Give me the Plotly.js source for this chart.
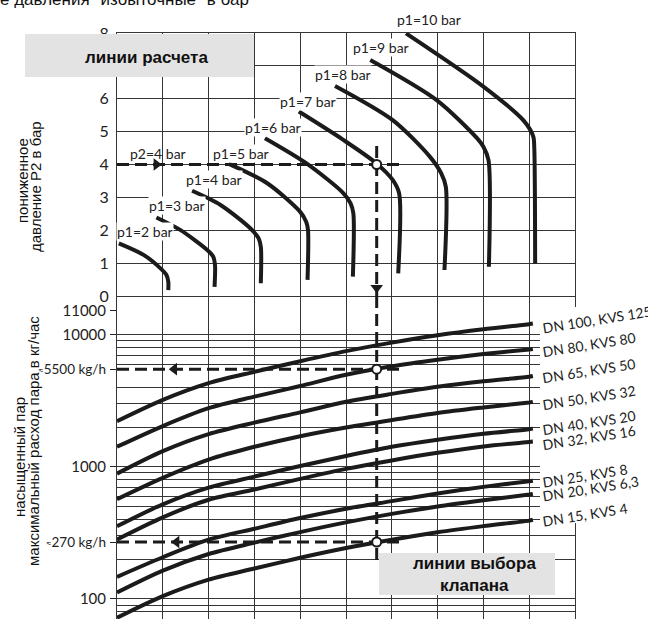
<!DOCTYPE html>
<html><head><meta charset="utf-8">
<script src="https://cdn.plot.ly/plotly-3.0.1.min.js"></script>
<style>html,body{margin:0;padding:0;background:#fff;overflow:hidden}</style>
</head><body><div id="chart" style="width:648px;height:619px"></div>
<script>
// ---------- data ----------
// upper panel: reduced pressure p2 (bar) vs. calculation scale
const pressureTicks = [0, 1, 2, 3, 4, 5, 6, 7, 8];
const pressureLabels = ['0', '1', '2', '3', '4', '5', '6', '', '8']; // "7" is hidden under the grey box
const p1Names = ['p1=2 bar', 'p1=3 bar', 'p1=4 bar', 'p1=5 bar', 'p1=6 bar', 'p1=7 bar', 'p1=8 bar', 'p1=9 bar', 'p1=10 bar'];
const p1_2_x = [0.04, 0.58, 0.95, 1.08, 1.12, 1.12];
const p1_2_y = [1.60, 1.25, 0.84, 0.64, 0.43, 0.18];
const p1_3_x = [0.86, 1.38, 1.97, 2.10, 2.14, 2.13];
const p1_3_y = [2.39, 2.01, 1.40, 1.20, 0.94, 0.28];
const p1_4_x = [1.64, 2.26, 2.91, 3.09, 3.14, 3.14];
const p1_4_y = [3.20, 2.77, 2.06, 1.76, 1.50, 0.39];
const p1_5_x = [2.44, 3.28, 4.00, 4.13, 4.17, 4.16];
const p1_5_y = [4.02, 3.43, 2.56, 2.26, 2.01, 0.49];
const p1_6_x = [3.23, 4.13, 4.94, 5.10, 5.16, 5.15];
const p1_6_y = [4.80, 4.04, 3.13, 2.82, 2.52, 0.59];
const p1_7_x = [3.97, 4.94, 5.66, 6.02, 6.16, 6.14];
const p1_7_y = [5.61, 4.75, 4.04, 3.53, 3.12, 0.69];
const p1_8_x = [4.76, 6.02, 6.83, 7.08, 7.18, 7.15];
const p1_8_y = [6.39, 5.35, 4.24, 3.73, 3.32, 0.79];
const p1_9_x = [5.53, 6.98, 7.86, 8.00, 8.11, 8.12];
const p1_9_y = [7.18, 5.96, 4.80, 4.54, 4.14, 0.89];
const p1_10_x = [6.31, 8.00, 8.87, 9.09, 9.11, 9.13];
const p1_10_y = [7.99, 6.37, 5.35, 4.85, 4.54, 0.99];
const p2Name = 'p2=4 bar';

// lower panel: max. saturated steam flow (kg/h), log scale
const flowX = [0, 1, 2, 3, 4, 5, 6, 7, 8, 9, 9.08];
const dn100 = [2220, 3220, 4310, 5250, 6320, 7530, 8740, 9950, 11040, 12050, 12180];
const dn80 = [1420, 2040, 2785, 3405, 4100, 4985, 5790, 6490, 7160, 7756, 7830];
const dn65 = [890, 1317, 1772, 2164, 2590, 3116, 3575, 4045, 4453, 4825, 4880];
const dn50 = [570, 827, 1136, 1420, 1709, 1990, 2266, 2561, 2820, 3078, 3110];
const dn40 = [355, 521, 697, 845, 1015, 1210, 1420, 1607, 1782, 1930, 1950];
const dn32 = [282, 415, 564, 675, 812, 967, 1120, 1278, 1428, 1545, 1556];
const dn25 = [147, 207, 281, 340, 410, 482, 551, 629, 706, 778, 785];
const dn20 = [112, 164, 219, 267, 321, 380, 441, 502, 559, 618, 625];
const dn15 = [72, 105, 140, 170, 205, 243, 281, 320, 356, 392, 398];
const dnNames = ['DN 100, KVS 125', 'DN 80, KVS 80', 'DN 65, KVS 50', 'DN 50, KVS 32', 'DN 40, KVS 20', 'DN 32, KVS 16', 'DN 25, KVS 8', 'DN 20, KVS 6,3', 'DN 15, KVS 4'];
const flowTickVals = [100, 270, 1000, 5500, 10000, 15200];
const flowTickText = ['100', '<span style="font-size:10px">≈</span><span style="font-size:13.5px">270 kg/h</span>', '1000',
  '<span style="font-size:10px">≈</span><span style="font-size:13.5px">5500 kg/h</span>', '10000', '11000'];
const flowGrid = [80, 90, 100, 200, 300, 400, 500, 600, 700, 800, 900, 1000, 2000, 3000, 4000, 6000, 7000, 8000, 9000, 10000];

// worked example (dashed guide lines)
const exampleX = 5.67;
const exampleP2 = 4;
const exampleFlows = [5500, 270];
const guideEndX = 6.16;
const guideTopP2 = 4.56;
const guideFlowTop = 19700;
const guideFlowBottom = 186;

// ---------- layout helpers ----------
const W = 648, H = 619, L = 117, R = 73, T = 33, B = 0;
const plotW = W - L - R, plotH = H - T - B;
const PX = p => (p - L) / plotW;
const PY = p => (H - B - p) / plotH;
const split = PY(296);
const logRange = [Math.log10(70.5), Math.log10(19700)];

const ink = '#1b1b1b';
const gridC = '#363636';
const futura = 'Lato, "DejaVu Sans", sans-serif';
const arial = '"Liberation Sans", Arial, sans-serif';

const traces = [];
const p1X = [p1_2_x, p1_3_x, p1_4_x, p1_5_x, p1_6_x, p1_7_x, p1_8_x, p1_9_x, p1_10_x];
const p1Y = [p1_2_y, p1_3_y, p1_4_y, p1_5_y, p1_6_y, p1_7_y, p1_8_y, p1_9_y, p1_10_y];
p1X.forEach((xs, i) => traces.push({
  x: xs, y: p1Y[i], xaxis: 'x', yaxis: 'y', mode: 'lines', name: p1Names[i],
  line: {color: ink, width: 4, shape: 'spline', smoothing: 0.8}, hoverinfo: 'skip'
}));
const dnSeries = [dn100, dn80, dn65, dn50, dn40, dn32, dn25, dn20, dn15];
dnSeries.forEach((ys, i) => traces.push({
  x: flowX, y: ys, xaxis: 'x2', yaxis: 'y2', mode: 'lines', name: dnNames[i],
  line: {color: ink, width: 4, shape: 'spline', smoothing: 0.8}, hoverinfo: 'skip'
}));

const dash = {color: ink, width: 3, dash: '12px,6px'};
// upper panel guides
traces.push({x: [0, guideEndX], y: [exampleP2, exampleP2], xaxis: 'x', yaxis: 'y', mode: 'lines', line: dash, hoverinfo: 'skip'});
traces.push({x: [exampleX, exampleX], y: [guideTopP2, 0], xaxis: 'x', yaxis: 'y', mode: 'lines', line: dash, hoverinfo: 'skip', cliponaxis: false});
traces.push({x: [0.86], y: [exampleP2], xaxis: 'x', yaxis: 'y', mode: 'markers', marker: {symbol: 'triangle-right', size: 11, color: ink}, hoverinfo: 'skip'});
traces.push({x: [exampleX], y: [0.25], xaxis: 'x', yaxis: 'y', mode: 'markers', marker: {symbol: 'triangle-down', size: 11, color: ink}, hoverinfo: 'skip'});
traces.push({x: [exampleX], y: [exampleP2], xaxis: 'x', yaxis: 'y', mode: 'markers', marker: {symbol: 'circle', size: 9, color: 'white', line: {color: ink, width: 2}}, hoverinfo: 'skip'});
// lower panel guides
traces.push({x: [exampleX, exampleX], y: [guideFlowTop, guideFlowBottom], xaxis: 'x2', yaxis: 'y2', mode: 'lines', line: dash, hoverinfo: 'skip'});
exampleFlows.forEach((f, i) => {
  traces.push({x: [0, guideEndX], y: [f, f], xaxis: 'x2', yaxis: 'y2', mode: 'lines', line: dash, hoverinfo: 'skip'});
  traces.push({x: [i === 0 ? 1.25 : 1.3], y: [f], xaxis: 'x2', yaxis: 'y2', mode: 'markers', marker: {symbol: 'triangle-left', size: 11, color: ink}, hoverinfo: 'skip'});
  traces.push({x: [exampleX], y: [f], xaxis: 'x2', yaxis: 'y2', mode: 'markers', marker: {symbol: 'circle', size: 9, color: 'white', line: {color: ink, width: 2}}, hoverinfo: 'skip'});
});
// dummy for overlay label axis
traces.push({x: [0], y: [1000], xaxis: 'x2', yaxis: 'y3', mode: 'markers', marker: {opacity: 0}, hoverinfo: 'skip'});

// ---------- annotations ----------
const ann = [];
const pAnn = (text, px, py, extra) => Object.assign({xref: 'paper', yref: 'paper', x: PX(px), y: PY(py),
  xanchor: 'center', yanchor: 'middle', showarrow: false, text: text}, extra || {});
ann.push(pAnn('е давления "избыточные" в бар', -2, -1, {xanchor: 'left', font: {family: arial, size: 17, color: '#111'}}));
[['пониженное', 22, 181], ['давление P2 в бар', 35, 187], ['насыщенный пар', 19, 457], ['максимальный расход пара в кг/час', 34, 441]]
  .forEach(a => ann.push(pAnn(a[0], a[1], a[2], {textangle: -90, font: {family: arial, size: 15, color: '#111'}})));
ann.push(pAnn('<b>линии расчета</b>', 146, 57, {font: {family: arial, size: 17, color: '#111'}}));
ann.push(pAnn('<b>линии выбора</b>', 474, 563, {font: {family: arial, size: 17, color: '#111'}}));
ann.push(pAnn('<b>клапана</b>', 474, 585, {font: {family: arial, size: 17, color: '#111'}}));

const p1LabelPx = [145, 177, 214, 241, 273, 308, 343, 381, 429];
const p1LabelPy = [232, 206, 180, 153, 128, 102, 74, 47, 19];
p1Names.forEach((t, i) => ann.push(pAnn(t, p1LabelPx[i], p1LabelPy[i], {bgcolor: 'white', borderpad: 0,
  font: {family: futura, size: 14, color: '#222'}})));
ann.push(pAnn(p2Name, 158, 153, {font: {family: futura, size: 14, color: '#222'}}));

const dnLabelPy = [319, 344, 371, 397, 422, 437, 475, 488, 514];
dnNames.forEach((t, i) => ann.push(pAnn(t, 539, dnLabelPy[i], {xanchor: 'left', textangle: -9,
  font: {family: futura, size: 14, color: '#222'}})));

// ---------- shapes ----------
const shapes = [
  {type: 'rect', xref: 'paper', yref: 'paper', x0: PX(540), x1: PX(660), y0: PY(523), y1: PY(307), fillcolor: 'white', line: {width: 0}, layer: 'above'},
  {type: 'rect', xref: 'paper', yref: 'paper', x0: PX(25), x1: PX(254), y0: PY(77), y1: PY(34), fillcolor: '#e3e3e3', line: {width: 0}, layer: 'above'},
  {type: 'rect', xref: 'paper', yref: 'paper', x0: PX(379), x1: PX(555), y0: PY(595), y1: PY(553), fillcolor: '#e3e3e3', line: {width: 0}, layer: 'above'}
];

const xCommon = {range: [0, 10], dtick: 1, tick0: 0, showgrid: true, gridcolor: gridC, gridwidth: 1, showticklabels: false, ticks: '', zeroline: false, fixedrange: true};
const layout = {
  width: W, height: H, margin: {l: L, r: R, t: T, b: B, pad: 0},
  paper_bgcolor: 'white', plot_bgcolor: 'white', showlegend: false,
  xaxis: Object.assign({}, xCommon, {domain: [0, 1], anchor: 'y', showline: true, mirror: true, linecolor: gridC, linewidth: 1}),
  xaxis2: Object.assign({}, xCommon, {domain: [0, 1], anchor: 'y2', showline: false}),
  yaxis: {domain: [split, 1], anchor: 'x', range: [0, 8], tickvals: pressureTicks, ticktext: pressureLabels,
    showgrid: true, gridcolor: gridC, gridwidth: 1, zeroline: false, showline: true, mirror: true, linecolor: gridC,
    ticks: '', ticklabelstandoff: 4, tickfont: {family: futura, size: 16, color: '#222'}, fixedrange: true},
  yaxis2: {domain: [0, split], anchor: 'x2', type: 'log', range: logRange, tickmode: 'array', tickvals: flowGrid,
    showticklabels: false, ticks: '', showgrid: true, gridcolor: gridC, gridwidth: 1, zeroline: false,
    showline: true, mirror: true, linecolor: gridC, fixedrange: true},
  yaxis3: {overlaying: 'y2', anchor: 'x2', side: 'left', type: 'log', range: logRange, tickmode: 'array',
    tickvals: flowTickVals, ticktext: flowTickText, showgrid: false, zeroline: false, showline: false,
    ticks: 'outside', ticklen: 6, tickcolor: '#222', tickwidth: 1, ticklabelstandoff: 1,
    tickfont: {family: futura, size: 15, color: '#222'}, fixedrange: true},
  annotations: ann, shapes: shapes
};
Plotly.newPlot('chart', traces, layout, {staticPlot: true, displayModeBar: false});
</script></body></html>
